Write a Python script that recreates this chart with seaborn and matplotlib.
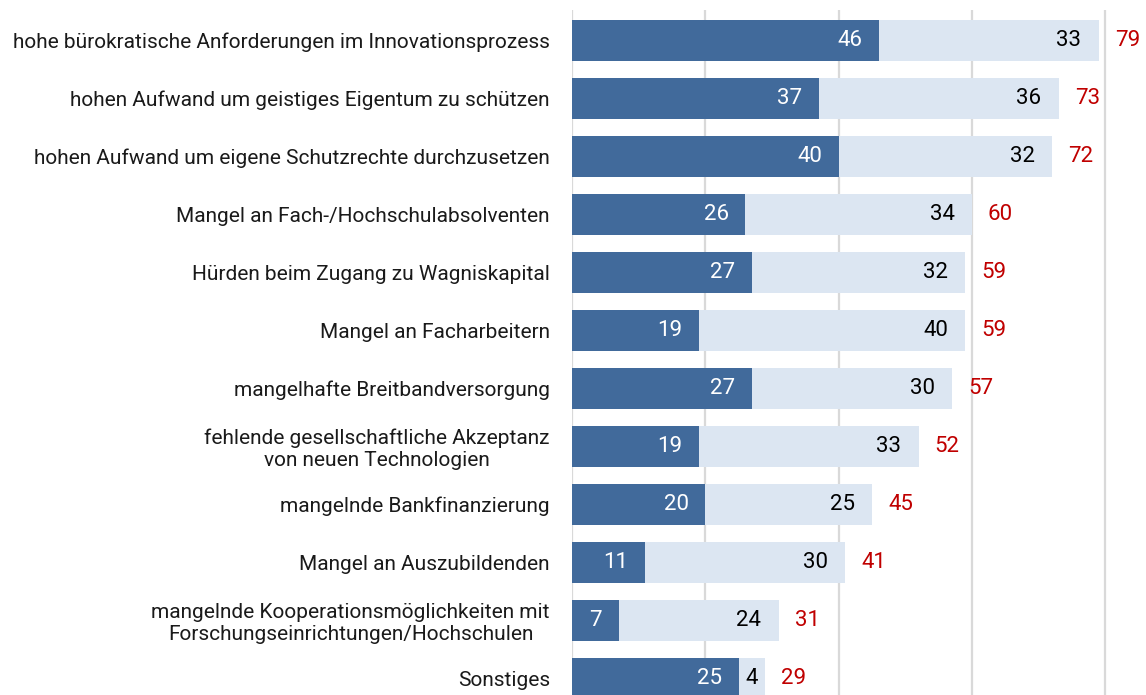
import matplotlib
matplotlib.use("Agg")
import pandas as pd
import matplotlib.pyplot as plt
import seaborn as sns

# ================================================================
# DATA
# ================================================================
categories = [
    "hohe bürokratische Anforderungen im Innovationsprozess",
    "hohen Aufwand um geistiges Eigentum zu schützen",
    "hohen Aufwand um eigene Schutzrechte durchzusetzen",
    "Mangel an Fach-/Hochschulabsolventen",
    "Hürden beim Zugang zu Wagniskapital",
    "Mangel an Facharbeitern",
    "mangelhafte Breitbandversorgung",
    "fehlende gesellschaftliche Akzeptanz\nvon neuen Technologien",
    "mangelnde Bankfinanzierung",
    "Mangel an Auszubildenden",
    "mangelnde Kooperationsmöglichkeiten mit\nForschungseinrichtungen/Hochschulen",
    "Sonstiges",
]
strong = [46, 37, 40, 26, 27, 19, 27, 19, 20, 11, 7, 25]
partly = [33, 36, 32, 34, 32, 40, 30, 33, 25, 30, 24, 4]
totals = [79, 73, 72, 60, 59, 59, 57, 52, 45, 41, 31, 29]

DARK = "#416a9b"
LIGHT = "#dce6f2"
RED = "#c00000"

df = pd.DataFrame({"cat": categories, "strong": strong, "total": [s + p for s, p in zip(strong, partly)]})

# ================================================================
# PLOT
# ================================================================
sns.set_style("white")
plt.rcParams["font.family"] = ["Roboto", "DejaVu Sans"]

fig = plt.figure(figsize=(11.46, 6.95), dpi=100)
ax = fig.add_axes([572 / 1146, 0.0, 1 - 572 / 1146, 1 - 10 / 695])

sns.barplot(data=df, y="cat", x="total", color=LIGHT, orient="h", width=0.71,
            saturation=1, linewidth=0, ax=ax, zorder=2)
sns.barplot(data=df, y="cat", x="strong", color=DARK, orient="h", width=0.71,
            saturation=1, linewidth=0, ax=ax, zorder=3)

for i, (s, p, t) in enumerate(zip(strong, partly, totals)):
    ax.annotate(str(s), xy=(s, i), xytext=(-12, 0), textcoords="offset points",
                ha="right", va="center", color="white", fontsize=16, zorder=5)
    if p < 6:
        # narrow segment: centre the number
        ax.annotate(str(p), xy=(s + p / 2, i), ha="center", va="center",
                    color="black", fontsize=16, zorder=5)
    else:
        ax.annotate(str(p), xy=(s + p, i), xytext=(-12.5, 0), textcoords="offset points",
                    ha="right", va="center", color="black", fontsize=16, zorder=5)
    ax.annotate(str(t), xy=(s + p, i), xytext=(11.5, 0), textcoords="offset points",
                ha="left", va="center", color=RED, fontsize=16, zorder=5)

ax.set_xlim(0, 86.1)
ax.set_ylim(11.29, -0.52)
ax.set_xticks([0, 20, 40, 60, 80])
ax.set_xticklabels([])
ax.xaxis.grid(True, color="#d9d9d9", linewidth=1.6)
ax.set_axisbelow(True)
ax.tick_params(axis="both", length=0)
ax.tick_params(axis="y", pad=16, labelsize=15, labelcolor="#1a1a1a")
for lbl in ax.get_yticklabels():
    lbl.set_multialignment("center")
ax.set_xlabel("")
ax.set_ylabel("")
sns.despine(ax=ax, left=True, bottom=True)

plt.savefig("out.png", dpi=100)
plt.close()
